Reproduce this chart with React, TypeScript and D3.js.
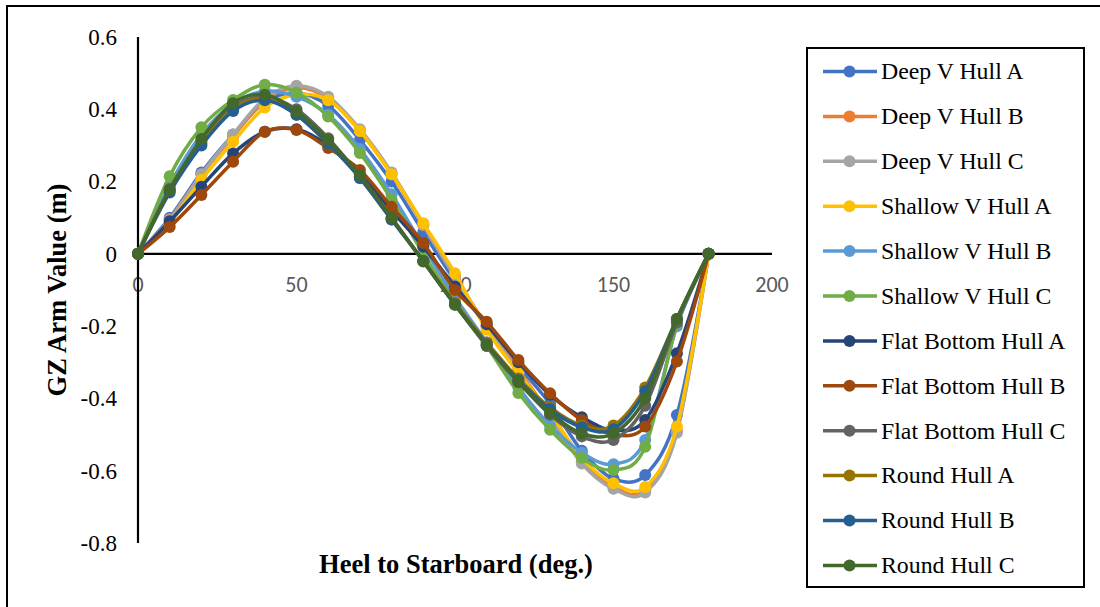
import React from "react";
import * as d3 from "d3";

// Heel angles (deg.)
const heelAngles = [0, 10, 20, 30, 40, 50, 60, 70, 80, 90, 100, 110, 120, 130, 140, 150, 160, 170, 180];

// GZ arm values (m) per hull form
const deepVA = [0, 0.10, 0.225, 0.33, 0.42, 0.445, 0.41, 0.315, 0.20, 0.06, -0.075, -0.20, -0.31, -0.415, -0.545, -0.622, -0.612, -0.446, 0];
const deepVB = [0, 0.095, 0.22, 0.325, 0.425, 0.46, 0.43, 0.34, 0.22, 0.08, -0.062, -0.20, -0.32, -0.445, -0.575, -0.645, -0.655, -0.49, 0];
const deepVC = [0, 0.095, 0.22, 0.33, 0.43, 0.465, 0.435, 0.345, 0.225, 0.08, -0.065, -0.205, -0.325, -0.45, -0.58, -0.65, -0.66, -0.495, 0];
const shallowVA = [0, 0.085, 0.205, 0.31, 0.405, 0.44, 0.425, 0.34, 0.22, 0.085, -0.054, -0.21, -0.33, -0.44, -0.565, -0.635, -0.645, -0.478, 0];
const shallowVB = [0, 0.19, 0.33, 0.415, 0.45, 0.435, 0.385, 0.29, 0.165, 0.02, -0.12, -0.245, -0.37, -0.475, -0.55, -0.582, -0.515, -0.2, 0];
const shallowVC = [0, 0.215, 0.35, 0.426, 0.468, 0.446, 0.38, 0.279, 0.15, 0.0, -0.135, -0.255, -0.385, -0.487, -0.565, -0.598, -0.534, -0.195, 0];
const flatA = [0, 0.09, 0.186, 0.278, 0.338, 0.345, 0.30, 0.22, 0.12, 0.02, -0.09, -0.195, -0.30, -0.39, -0.452, -0.488, -0.46, -0.275, 0];
const flatB = [0, 0.074, 0.163, 0.255, 0.338, 0.343, 0.293, 0.232, 0.13, 0.03, -0.10, -0.188, -0.294, -0.386, -0.46, -0.50, -0.478, -0.298, 0];
const flatC = [0, 0.18, 0.31, 0.405, 0.435, 0.40, 0.32, 0.215, 0.10, -0.02, -0.14, -0.255, -0.355, -0.445, -0.505, -0.515, -0.42, -0.19, 0];
const roundA = [0, 0.175, 0.305, 0.40, 0.43, 0.385, 0.305, 0.21, 0.095, -0.02, -0.135, -0.245, -0.345, -0.425, -0.475, -0.475, -0.37, -0.18, 0];
const roundB = [0, 0.17, 0.30, 0.395, 0.425, 0.385, 0.305, 0.21, 0.095, -0.02, -0.14, -0.25, -0.35, -0.43, -0.48, -0.485, -0.38, -0.18, 0];
const roundC = [0, 0.177, 0.318, 0.417, 0.44, 0.394, 0.315, 0.218, 0.10, -0.021, -0.141, -0.252, -0.354, -0.44, -0.497, -0.497, -0.40, -0.18, 0];

const seriesNames = [
  "Deep V Hull A", "Deep V Hull B", "Deep V Hull C",
  "Shallow V Hull A", "Shallow V Hull B", "Shallow V Hull C",
  "Flat Bottom Hull A", "Flat Bottom Hull B", "Flat Bottom Hull C",
  "Round Hull A", "Round Hull B", "Round Hull C",
];
const seriesValues = [deepVA, deepVB, deepVC, shallowVA, shallowVB, shallowVC, flatA, flatB, flatC, roundA, roundB, roundC];
const seriesColors = [
  "#4472C4", "#ED7D31", "#A5A5A5", "#FFC000", "#5B9BD5", "#70AD47",
  "#264478", "#9E480E", "#636363", "#997300", "#255E91", "#43682B",
];

const xTicks = [0, 50, 100, 150, 200];
const yTicks = [0.6, 0.4, 0.2, 0, -0.2, -0.4, -0.6, -0.8];

const SERIF = "'Times New Roman', 'Liberation Serif', serif";
const SANS = "Calibri, 'Liberation Sans', Arial, sans-serif";

export default function App() {
  const width = 1100;
  const height = 607;
  const plot = { left: 138, right: 772, top: 37, bottom: 543 };

  const x = d3.scaleLinear().domain([0, 200]).range([plot.left, plot.right]);
  const y = d3.scaleLinear().domain([-0.8, 0.6]).range([plot.bottom, plot.top]);

  const line = d3
    .line<[number, number]>()
    .x((d) => x(d[0]))
    .y((d) => y(d[1]))
    .curve(d3.curveCatmullRom.alpha(0));

  const legend = { x: 807, y: 48, w: 277, h: 539, firstY: 71.5, step: 44.9 };

  return (
    <svg
      width={width}
      height={height}
      style={{ position: "absolute", left: 0, top: 0, background: "#fff" }}
    >
      <rect x={0} y={0} width={width} height={height} fill="#fff" />
      {/* outer chart frame */}
      <path d={`M7,${height} V6 H${width}`} fill="none" stroke="#000" strokeWidth={2} />

      {/* y tick labels */}
      {yTicks.map((t) => (
        <text
          key={`y${t}`}
          x={117}
          y={y(t) + 7.8}
          textAnchor="end"
          fontFamily={SERIF}
          fontSize={23}
          fill="#000"
        >
          {t === 0 ? "0" : d3.format(".1f")(t).replace("−", "-")}
        </text>
      ))}

      {/* x tick labels */}
      {xTicks.map((t) => (
        <text
          key={`x${t}`}
          x={x(t)}
          y={291.5}
          textAnchor="middle"
          fontFamily={SANS}
          fontSize={22}
          fill="#595959"
        >
          {t}
        </text>
      ))}

      {/* axes */}
      <line x1={x(0)} x2={x(0)} y1={y(0.6)} y2={y(-0.8)} stroke="#000" strokeWidth={2.2} />
      <line x1={x(0)} x2={x(200)} y1={y(0)} y2={y(0)} stroke="#000" strokeWidth={2.2} />

      {/* series */}
      {seriesValues.map((vals, i) => {
        const pts = heelAngles.map((a, j) => [a, vals[j]] as [number, number]);
        return (
          <g key={seriesNames[i]}>
            <path d={line(pts) || ""} fill="none" stroke={seriesColors[i]} strokeWidth={3.5} />
            {pts.map((p, j) => (
              <circle key={j} cx={x(p[0])} cy={y(p[1])} r={6} fill={seriesColors[i]} />
            ))}
          </g>
        );
      })}

      {/* axis titles */}
      <text
        x={456}
        y={573}
        textAnchor="middle"
        fontFamily={SERIF}
        fontWeight="bold"
        fontSize={26.5}
        fill="#000"
      >
        Heel to Starboard (deg.)
      </text>
      <text
        transform={`translate(66,${(plot.top + plot.bottom) / 2}) rotate(-90)`}
        textAnchor="middle"
        fontFamily={SERIF}
        fontWeight="bold"
        fontSize={26.5}
        fill="#000"
      >
        GZ Arm Value (m)
      </text>

      {/* legend */}
      <rect
        x={legend.x}
        y={legend.y}
        width={legend.w}
        height={legend.h}
        fill="#fff"
        stroke="#000"
        strokeWidth={2}
      />
      {seriesNames.map((name, i) => {
        const cy = legend.firstY + i * legend.step;
        return (
          <g key={`lg${name}`}>
            <line x1={823} x2={877} y1={cy} y2={cy} stroke={seriesColors[i]} strokeWidth={3.5} />
            <circle cx={849.5} cy={cy} r={6} fill={seriesColors[i]} />
            <text x={881} y={cy + 7.8} fontFamily={SERIF} fontSize={23.8} fill="#000">
              {name}
            </text>
          </g>
        );
      })}
    </svg>
  );
}
